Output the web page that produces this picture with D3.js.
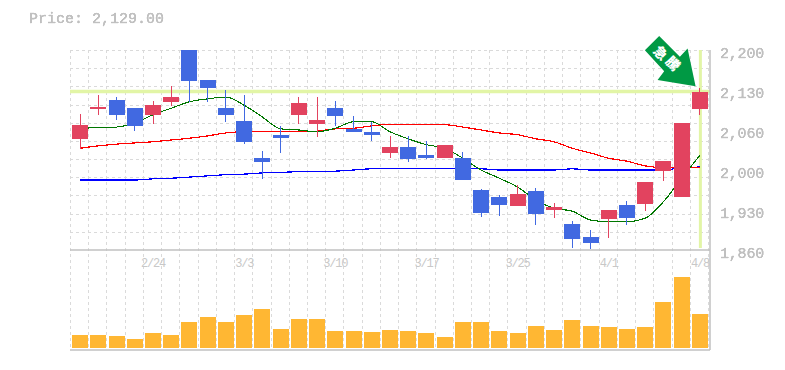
<!DOCTYPE html>
<html><head><meta charset="utf-8">
<script src="https://cdn.jsdelivr.net/npm/d3@7/dist/d3.min.js"></script>
<style>html,body{margin:0;padding:0;background:#fff}svg{display:block}</style>
</head><body><div id="c"></div>
<script>
const opens  = [2049,2100,2115,2101,2090,2112,2200,2149,2101,2079,2016,2056,2090,2074,2101,2066,2061,2025,2035,2022,2016,2016,1962,1950,1935,1960,1928,1904,1882,1913,1937,1938,1994,1950,2100];
const closes = [2072,2103,2090,2071,2106,2120,2147,2135,2090,2044,2010,2050,2110,2081,2088,2061,2056,2035,2015,2016,2039,1979,1923,1936,1955,1921,1933,1879,1872,1928,1914,1976,2011,2076,2129];
const highs  = [2091,2124,2120,2101,2113,2139,2200,2149,2132,2124,2028,2071,2120,2120,2113,2088,2078,2054,2054,2045,2039,2027,1964,1954,1970,1965,1940,1909,1894,1928,1943,1976,2011,2076,2135];
const lows   = [2032,2090,2081,2062,2074,2105,2112,2112,2078,2040,1981,2025,2074,2052,2071,2061,2045,2016,2010,2015,2016,1979,1916,1918,1935,1903,1914,1863,1862,1880,1903,1926,1977,1950,2090];
const maShort = [2067,2068,2069,2076,2090,2101,2112,2117,2120,2106,2086,2066,2064,2061,2067,2078,2078,2061,2049,2039,2033,2016,1996,1982,1967,1945,1931,1926,1911,1908,1908,1914,1942,1982,2021];
const maMid   = [2033,2037,2040,2042,2044,2047,2050,2054,2059,2061,2061,2061,2061,2062,2066,2067,2071,2074,2073,2073,2073,2069,2064,2059,2056,2049,2044,2033,2025,2016,2011,2003,2000,2000,2000];
const maLong  = [1979,1979,1979,1979,1981,1982,1984,1986,1988,1989,1991,1992,1993,1993,1994,1996,1998,1998,1998,1998,1998,1998,1998,1996,1996,1996,1996,1998,1996,1996,1996,1996,1996,2000,2001];
const volumes = [133,133,123,93,153,133,263,313,263,333,393,193,293,293,173,173,163,183,173,153,113,263,263,173,153,223,183,283,223,213,193,213,463,713,343];
const yTicks = [2200,2132,2064,1996,1928,1860];
const yLabels = ["2,200","2,130","2,060","2,000","1,930","1,860"];
const dateIdx = [4,9,14,19,24,29,34];
const dateLabels = ["2/24","3/3","3/10","3/17","3/25","4/1","4/8"];
const titleText = "Price: 2,129.00";
const lastPrice = 2129;
const arrowChars = ["急","騰"];

const W=785,H=370,L=70,R=710,T=50,M=250,B=350;
const FONT='"Liberation Mono","DejaVu Sans Mono",monospace';
const RED="#e2435f",BLUE="#4169e1",GRID="#dadada",AXIS="#c0c0c0",HL="#e2f5a6",TXT="#c0c0c0";
const svg=d3.select("#c").append("svg").attr("width",W).attr("height",H);
const f=svg.append("defs").append("filter").attr("id","px").attr("x","-5%").attr("y","-5%").attr("width","110%").attr("height","110%").attr("color-interpolation-filters","sRGB");
f.append("feComponentTransfer").append("feFuncA").attr("type","linear").attr("slope",1.6).attr("intercept",-0.25);
const idx=d3.range(opens.length);
const x=d3.scaleBand().domain(idx).range([71,709]);
const y=d3.scaleLinear().domain([1860,2200]).range([M,T]);
const yv=d3.scaleLinear().domain([0,980]).range([348.3,250.3]);
const cx=i=>x(i)+x.bandwidth()/2;

const g=svg.append("g");
g.selectAll(".vg").data(d3.range(opens.length)).join("line")
 .attr("x1",d=>x(d)-.5).attr("x2",d=>x(d)-.5).attr("y1",T).attr("y2",B)
 .attr("stroke",GRID).attr("stroke-width",1).attr("stroke-dasharray","3,3").attr("shape-rendering","crispEdges");
g.append("line").attr("x1",R-1.5).attr("x2",R-1.5).attr("y1",T).attr("y2",B)
 .attr("stroke",GRID).attr("stroke-width",1).attr("stroke-dasharray","3,3").attr("shape-rendering","crispEdges");
const hg=d3.scaleLinear().domain([0,11]).range([T,M]);
g.selectAll(".hg").data(d3.range(0,11)).join("line")
 .attr("x1",L).attr("x2",R).attr("y1",d=>hg(d)+.5).attr("y2",d=>hg(d)+.5)
 .attr("stroke",GRID).attr("stroke-width",1).attr("stroke-dasharray","3,3").attr("shape-rendering","crispEdges");
g.append("line").attr("x1",L).attr("x2",R).attr("y1",y(lastPrice)-.3).attr("y2",y(lastPrice)-.3).attr("stroke",HL).attr("stroke-width",3.5);
g.append("line").attr("x1",cx(34)+.5).attr("x2",cx(34)+.5).attr("y1",T).attr("y2",248).attr("stroke",HL).attr("stroke-width",3);
[[L,M,R,M],[L,B,R,B],[R,T,R,B]].forEach(a=>g.append("line").attr("x1",a[0]).attr("y1",a[1]).attr("x2",a[2]).attr("y2",a[3]).attr("stroke",AXIS).attr("stroke-width",1.5));
const ln=d3.line().x((d,i)=>cx(i)).y(d=>y(d)).curve(d3.curveMonotoneX);
[[maLong,"#0000ff",1.2],[maMid,"#ff0000",1.2],[maShort,"#007700",1.1]].forEach(s=>
 g.append("path").attr("d",ln(s[0])).attr("fill","none").attr("stroke",s[1]).attr("stroke-width",s[2]).attr("shape-rendering","crispEdges"));
const col=i=>closes[i]>=opens[i]?RED:BLUE;
g.selectAll(".w").data(idx).join("line")
 .attr("x1",d=>cx(d)).attr("x2",d=>cx(d)).attr("y1",d=>y(highs[d])).attr("y2",d=>y(lows[d]))
 .attr("stroke",col).attr("stroke-width",1).attr("shape-rendering","crispEdges");
g.selectAll(".b").data(idx).join("rect")
 .attr("x",d=>cx(d)-8).attr("width",16)
 .attr("y",d=>y(Math.max(opens[d],closes[d])))
 .attr("height",d=>Math.max(1,Math.abs(y(opens[d])-y(closes[d]))))
 .attr("fill",col).attr("shape-rendering","crispEdges");
g.selectAll(".v").data(idx).join("rect")
 .attr("x",d=>cx(d)-8).attr("width",16)
 .attr("y",d=>yv(volumes[d])).attr("height",d=>yv(0)-yv(volumes[d]))
 .attr("fill","#ffb733").attr("shape-rendering","crispEdges");
g.selectAll(".yl").data(yTicks).join("text")
 .attr("x",720).attr("y",d=>y(d)+8).text((d,i)=>yLabels[i])
 .attr("font-family",FONT).attr("font-size",15).attr("letter-spacing",-.2).attr("fill",TXT)
 .attr("stroke",TXT).attr("stroke-width",.35).attr("filter","url(#px)");
g.selectAll(".xl").data(dateIdx).join("text")
 .attr("x",d=>cx(d)).attr("y",267).attr("text-anchor","middle").text((d,i)=>dateLabels[i])
 .attr("font-family",FONT).attr("font-size",12).attr("letter-spacing",-1.2).attr("fill","#c8c8c8");
svg.append("text").attr("x",29).attr("y",23).text(titleText)
 .attr("font-family",FONT).attr("font-size",15).attr("fill",TXT)
 .attr("stroke",TXT).attr("stroke-width",.35).attr("filter","url(#px)");

// arrow anchored at the last candle
const tx=cx(34)-4.3, ty=y(lastPrice)-5.5;
const shape=[[-36.4,-50.3],[-50.7,-36],[-31.4,-15],[-38,-6.3],[0,0],[-8,-37.7],[-15.7,-29.6]];
const ag=svg.append("g").attr("transform",`translate(${tx},${ty})`);
ag.append("polygon").attr("points",shape.map(p=>p.join(",")).join(" ")).attr("fill","#009944");
[[-35,-33.5],[-22.5,-23]].forEach((p,i)=>
 ag.append("text").attr("transform",`translate(${p[0]},${p[1]}) rotate(45)`)
  .attr("text-anchor","middle").attr("dy","0.38em").text(arrowChars[i])
  .attr("font-family",'"Noto Sans CJK JP"').attr("font-weight",900).attr("font-size",13.5).attr("fill","#fff"));
</script></body></html>
